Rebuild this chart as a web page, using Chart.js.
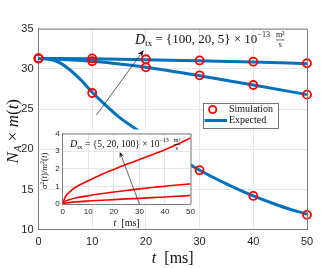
<!DOCTYPE html>
<html>
<head>
<meta charset="utf-8">
<script src="https://cdn.jsdelivr.net/npm/chart.js@4.4.1/dist/chart.umd.min.js"></script>
<style>
  html, body { margin: 0; padding: 0; background: #fff; }
  #wrap { position: relative; width: 334px; height: 268px; }
  #main { position: absolute; left: 0; top: 0; }
  #inset { position: absolute; left: 36px; top: 126px; }
</style>
</head>
<body>
<div id="wrap">
  <canvas id="main" width="334" height="268"></canvas>
  <canvas id="inset" width="162" height="104"></canvas>
</div>
<script>
// simulation markers (t in ms)
const simT = [0, 10, 20, 30, 40, 50];
const simD5 = [31.3, 31.3, 31.2, 31.05, 30.9, 30.7];
const simD20 = [31.3, 30.95, 30.2, 29.2, 28.0, 26.8];
const simD100 = [31.3, 27.0, 21.8, 17.4, 14.2, 11.85];

// expected curves
const expT = [0, 10, 20, 30, 40, 50];
const expD5 = [31.3, 31.25, 31.15, 31.0, 30.85, 30.65];
const expD20 = [31.3, 30.95, 30.2, 29.15, 28.0, 26.8];
const expT100 = [0, 2, 4, 6, 8, 10, 12, 15, 20, 25, 30, 35, 40, 45, 50];
const expD100 = [31.3, 31.2, 30.75, 29.8, 28.55, 27.1, 25.8, 24.0, 21.7, 19.4, 17.4, 15.7, 14.2, 12.95, 11.9];

// inset: sigma^2 / m^2
const insT = [0, 1, 2.5, 5, 10, 15, 20, 25, 30, 35, 40, 45, 50];
const ins5 = [0, 0.05, 0.08, 0.12, 0.17, 0.21, 0.25, 0.29, 0.32, 0.36, 0.4, 0.44, 0.48];
const ins20 = [0, 0.15, 0.24, 0.34, 0.47, 0.58, 0.68, 0.77, 0.86, 0.94, 1.01, 1.08, 1.14];
const ins100 = [0, 0.4, 0.65, 0.95, 1.32, 1.66, 1.96, 2.25, 2.52, 2.8, 3.08, 3.4, 3.75];

// tick labels
const xTicks = [0, 10, 20, 30, 40, 50];
const yTicks = [10, 15, 20, 25, 30, 35];
const insYTicks = [0, 1, 2, 3, 4];

const BLUE = "#0072BD";
const RED = "#FF0000";
const AXIS = "#7f7f7f";
const GRID = "#e6e6e6";
const SERIF = '"Liberation Serif", "DejaVu Serif", serif';
const SANS = '"Liberation Sans", Arial, sans-serif';

function pts(xs, ys) {
  return xs.map((x, i) => ({ x: x, y: ys[i] }));
}
function setTicks(list) {
  return (s) => { s.ticks = list.map((v) => ({ value: v })); };
}

function richWidth(ctx, parts) {
  let w = 0;
  parts.forEach((p) => {
    ctx.font = p.f;
    if (p.frac) {
      w += (p.gap || 0) + Math.max(ctx.measureText(p.num).width, ctx.measureText(p.den).width);
    } else {
      w += ctx.measureText(p.t).width;
    }
  });
  return w;
}

function drawRich(ctx, parts, x, y) {
  let cx = x - richWidth(ctx, parts) / 2;
  ctx.textBaseline = "middle";
  parts.forEach((p) => {
    ctx.font = p.f;
    if (p.frac) {
      cx += p.gap || 0;
      const fw = Math.max(ctx.measureText(p.num).width, ctx.measureText(p.den).width);
      ctx.textAlign = "center";
      ctx.fillText(p.num, cx + fw / 2, y - p.h);
      ctx.fillText(p.den, cx + fw / 2, y + p.h);
      ctx.beginPath();
      ctx.lineWidth = 0.6;
      ctx.moveTo(cx, y);
      ctx.lineTo(cx + fw, y);
      ctx.stroke();
      cx += fw;
    } else {
      ctx.textAlign = "left";
      ctx.fillText(p.t, cx, y + (p.dy || 0));
      cx += ctx.measureText(p.t).width;
    }
  });
}

function arrow(ctx, x1, y1, x2, y2, head) {
  const a = Math.atan2(y2 - y1, x2 - x1);
  ctx.strokeStyle = "#222";
  ctx.fillStyle = "#222";
  ctx.lineWidth = 0.7;
  ctx.beginPath();
  ctx.moveTo(x1, y1);
  ctx.lineTo(x2 - head * 0.8 * Math.cos(a), y2 - head * 0.8 * Math.sin(a));
  ctx.stroke();
  ctx.beginPath();
  ctx.moveTo(x2, y2);
  ctx.lineTo(x2 - head * Math.cos(a) + head * 0.4 * Math.sin(a), y2 - head * Math.sin(a) - head * 0.4 * Math.cos(a));
  ctx.lineTo(x2 - head * 0.7 * Math.cos(a), y2 - head * 0.7 * Math.sin(a));
  ctx.lineTo(x2 - head * Math.cos(a) - head * 0.4 * Math.sin(a), y2 - head * Math.sin(a) + head * 0.4 * Math.cos(a));
  ctx.closePath();
  ctx.fill();
}

const mainDecor = {
  id: "mainDecor",
  afterDraw(chart) {
    const ctx = chart.ctx;
    const a = chart.chartArea;
    const xs = chart.scales.x;
    const ys = chart.scales.y;
    ctx.save();
    // box
    ctx.strokeStyle = AXIS;
    ctx.lineWidth = 1;
    ctx.beginPath();
    ctx.moveTo(a.left, a.top + 0.5);
    ctx.lineTo(a.right + 0.5, a.top + 0.5);
    ctx.lineTo(a.right + 0.5, a.bottom);
    ctx.stroke();

    ctx.fillStyle = "#111";
    ctx.strokeStyle = "#111";
    // x label
    drawRich(ctx, [
      { t: "t", f: "italic 16px " + SERIF },
      { t: "  [ms]", f: "16px " + SERIF },
    ], (a.left + a.right) / 2, 259);
    // y label
    ctx.save();
    ctx.translate(14, (a.top + a.bottom) / 2 + 2);
    ctx.rotate(-Math.PI / 2);
    drawRich(ctx, [
      { t: "N", f: "italic 17px " + SERIF },
      { t: "A", f: "italic 11px " + SERIF, dy: 4 },
      { t: " × ", f: "17px " + SERIF },
      { t: "m", f: "italic 17px " + SERIF },
      { t: "(", f: "17px " + SERIF },
      { t: "t", f: "italic 17px " + SERIF },
      { t: ")", f: "17px " + SERIF },
    ], 0, 0);
    ctx.restore();

    // annotation
    ctx.fillStyle = "#111";
    ctx.strokeStyle = "#111";
    drawRich(ctx, [
      { t: "D", f: "italic 14px " + SERIF },
      { t: "tx", f: "9px " + SERIF, dy: 4 },
      { t: " = {100, 20, 5} × 10", f: "13px " + SERIF },
      { t: "−13", f: "8px " + SERIF, dy: -5 },
      { frac: true, num: "m²", den: "s", f: "8px " + SERIF, gap: 6, h: 5 },
    ], xs.getPixelForValue(31.9), ys.getPixelForValue(33.6));
    arrow(ctx, xs.getPixelForValue(10.8), ys.getPixelForValue(24.27),
      xs.getPixelForValue(19.6), ys.getPixelForValue(32.35), 7);

    // legend
    const lx = 203, ly = 103, lw = 75, lh = 25;
    ctx.fillStyle = "#fff";
    ctx.fillRect(lx, ly, lw, lh);
    ctx.strokeStyle = "#555";
    ctx.lineWidth = 0.8;
    ctx.strokeRect(lx + 0.5, ly + 0.5, lw, lh);
    ctx.strokeStyle = RED;
    ctx.lineWidth = 1.8;
    ctx.beginPath();
    ctx.arc(212.7, 109.5, 3.6, 0, Math.PI * 2);
    ctx.stroke();
    ctx.strokeStyle = BLUE;
    ctx.lineWidth = 3;
    ctx.beginPath();
    ctx.moveTo(204.5, 120.5);
    ctx.lineTo(227, 120.5);
    ctx.stroke();
    ctx.fillStyle = "#111";
    ctx.font = "10px " + SERIF;
    ctx.textAlign = "left";
    ctx.textBaseline = "middle";
    ctx.fillText("Simulation", 229, 109.5);
    ctx.fillText("Expected", 229, 120.5);

    // y tick labels, drawn last
    ctx.fillStyle = "#262626";
    ctx.font = "11px " + SANS;
    ctx.textAlign = "right";
    ctx.textBaseline = "middle";
    yTicks.forEach((v) => ctx.fillText(String(v), a.left - 5, ys.getPixelForValue(v)));
    ctx.restore();
  },
};

const lineDs = (data) => ({
  data: data,
  borderColor: BLUE,
  borderWidth: 3,
  pointRadius: 0,
  fill: false,
  cubicInterpolationMode: "monotone",
  order: 2,
});
const markDs = (data) => ({
  data: data,
  showLine: false,
  pointStyle: "circle",
  pointRadius: 4,
  pointBorderWidth: 1.8,
  pointBorderColor: RED,
  pointBackgroundColor: "rgba(0,0,0,0)",
  order: 1,
});

new Chart(document.getElementById("main"), {
  type: "line",
  data: {
    datasets: [
      lineDs(pts(expT, expD5)),
      lineDs(pts(expT, expD20)),
      lineDs(pts(expT100, expD100)),
      markDs(pts(simT, simD5)),
      markDs(pts(simT, simD20)),
      markDs(pts(simT, simD100)),
    ],
  },
  options: {
    responsive: false,
    animation: false,
    devicePixelRatio: 1,
    clip: false,
    layout: { padding: { left: 0, top: 28.7, right: 27, bottom: 0 } },
    plugins: { legend: { display: false }, tooltip: { enabled: false } },
    scales: {
      x: {
        type: "linear",
        min: 0,
        max: 50,
        afterBuildTicks: setTicks(xTicks),
        ticks: { autoSkip: false, color: "#262626", font: { size: 11, family: SANS }, padding: 6, maxRotation: 0 },
        grid: { color: GRID, drawTicks: false },
        border: { color: AXIS },
        afterFit: (s) => { s.height = 38.3; },
      },
      y: {
        min: 10,
        max: 35,
        afterBuildTicks: setTicks(yTicks),
        ticks: { display: false },
        grid: { color: GRID, drawTicks: false },
        border: { color: AXIS },
        afterFit: (s) => { s.width = 38.5; },
      },
    },
  },
  plugins: [mainDecor],
});

const insetDecor = {
  id: "insetDecor",
  beforeDraw(chart) {
    const a = chart.chartArea;
    chart.ctx.save();
    chart.ctx.fillStyle = "#fff";
    chart.ctx.fillRect(a.left, a.top - 4, a.right - a.left, a.bottom - a.top + 4);
    chart.ctx.restore();
  },
  afterDraw(chart) {
    const ctx = chart.ctx;
    const a = chart.chartArea;
    const xs = chart.scales.x;
    const ys = chart.scales.y;
    ctx.save();
    ctx.strokeStyle = AXIS;
    ctx.lineWidth = 1;
    ctx.beginPath();
    ctx.moveTo(a.left, a.top + 0.5);
    ctx.lineTo(a.right + 0.5, a.top + 0.5);
    ctx.lineTo(a.right + 0.5, a.bottom);
    ctx.stroke();

    ctx.fillStyle = "#262626";
    ctx.font = "8px " + SANS;
    ctx.textAlign = "right";
    ctx.textBaseline = "middle";
    insYTicks.forEach((v) => ctx.fillText(String(v), a.left - 3, ys.getPixelForValue(v)));

    ctx.fillStyle = "#111";
    ctx.strokeStyle = "#111";
    drawRich(ctx, [
      { t: "t", f: "italic 10px " + SERIF },
      { t: "  [ms]", f: "10px " + SERIF },
    ], (a.left + a.right) / 2, 97);

    ctx.save();
    ctx.translate(9, (a.top + a.bottom) / 2 + 2);
    ctx.rotate(-Math.PI / 2);
    drawRich(ctx, [
      { t: "σ", f: "italic 9px " + SERIF },
      { t: "2", f: "6px " + SERIF, dy: -3 },
      { t: "(", f: "9px " + SERIF },
      { t: "t", f: "italic 9px " + SERIF },
      { t: ")/", f: "9px " + SERIF },
      { t: "m", f: "italic 9px " + SERIF },
      { t: "2", f: "6px " + SERIF, dy: -3 },
      { t: "(", f: "9px " + SERIF },
      { t: "t", f: "italic 9px " + SERIF },
      { t: ")", f: "9px " + SERIF },
    ], 0, 0);
    ctx.restore();

    drawRich(ctx, [
      { t: "D", f: "italic 10px " + SERIF },
      { t: "tx", f: "7px " + SERIF, dy: 3 },
      { t: " = {5, 20, 100} × 10", f: "9.5px " + SERIF },
      { t: "−13", f: "6px " + SERIF, dy: -4 },
      { frac: true, num: "m²", den: "s", f: "6px " + SERIF, gap: 5, h: 4 },
    ], xs.getPixelForValue(24.4), ys.getPixelForValue(3.37));
    arrow(ctx, xs.getPixelForValue(30), ys.getPixelForValue(0),
      xs.getPixelForValue(22.3), ys.getPixelForValue(2.97), 6);
    ctx.restore();
  },
};

const redDs = (data) => ({
  data: data,
  borderColor: RED,
  borderWidth: 1.6,
  pointRadius: 0,
  fill: false,
  cubicInterpolationMode: "monotone",
});

new Chart(document.getElementById("inset"), {
  type: "line",
  data: {
    datasets: [redDs(pts(insT, ins5)), redDs(pts(insT, ins20)), redDs(pts(insT, ins100))],
  },
  options: {
    responsive: false,
    animation: false,
    devicePixelRatio: 1,
    layout: { padding: { left: 0, top: 7.5, right: 6.7, bottom: 0 } },
    plugins: { legend: { display: false }, tooltip: { enabled: false } },
    scales: {
      x: {
        type: "linear",
        min: 0,
        max: 50,
        afterBuildTicks: setTicks(xTicks),
        ticks: { autoSkip: false, color: "#262626", font: { size: 8, family: SANS }, padding: 3, maxRotation: 0 },
        grid: { color: GRID, drawTicks: false },
        border: { color: AXIS },
        afterFit: (s) => { s.height = 26; },
      },
      y: {
        min: 0,
        max: 4,
        afterBuildTicks: setTicks(insYTicks),
        ticks: { display: false },
        grid: { color: GRID, drawTicks: false },
        border: { color: AXIS },
        afterFit: (s) => { s.width = 26.7; },
      },
    },
  },
  plugins: [insetDecor],
});
</script>
</body>
</html>
